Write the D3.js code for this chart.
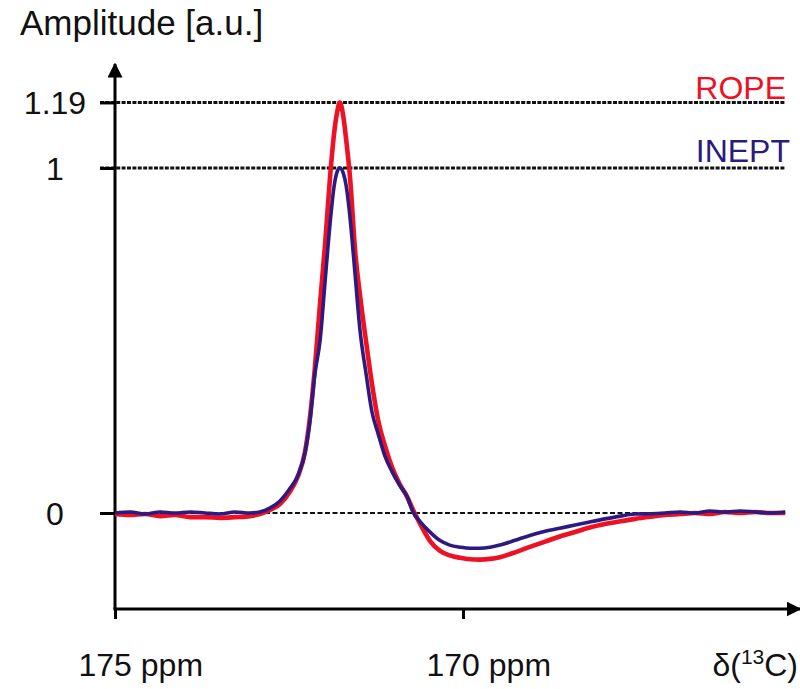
<!DOCTYPE html>
<html>
<head>
<meta charset="utf-8">
<script src="https://cdn.jsdelivr.net/npm/d3@7"></script>
<style>
  html, body { margin: 0; padding: 0; background: #fff; }
  svg { display: block; font-family: "Liberation Sans", Arial, Helvetica, sans-serif; }
</style>
</head>
<body>
<svg id="chart" width="800" height="689"></svg>
<script>
// chemical shift grid (ppm)
const ppm = [
  175.00, 174.78, 174.57, 174.35, 174.14, 173.92, 173.71, 173.49, 173.28, 173.06,
  172.92, 172.77, 172.63, 172.49, 172.37, 172.27, 172.20, 172.13, 172.05, 171.98,
  171.91, 171.85, 171.81, 171.77, 171.72, 171.68, 171.62, 171.55, 171.48, 171.39,
  171.31, 171.22, 171.12, 171.02, 170.91, 170.80, 170.72, 170.62, 170.47, 170.33,
  170.19, 170.04, 169.90, 169.76, 169.61, 169.47, 169.25, 169.04, 168.82, 168.61,
  168.39, 168.18, 167.96, 167.74, 167.53, 167.31, 167.10, 166.88, 166.67, 166.45,
  166.24, 166.02, 165.80, 165.59, 165.37
];

// ROPE amplitude (a.u.)
const rope = [
  -0.003, -0.006, -0.003, -0.009, -0.006, -0.012, -0.012, -0.014, -0.012, -0.009,
  -0.003, 0.009, 0.026, 0.061, 0.107, 0.177, 0.275, 0.417, 0.617, 0.783,
  0.974, 1.104, 1.160, 1.190, 1.150, 1.085, 0.965, 0.760, 0.632, 0.493,
  0.377, 0.270, 0.194, 0.133, 0.084, 0.046, 0.010, -0.030, -0.082, -0.110,
  -0.123, -0.130, -0.134, -0.135, -0.133, -0.128, -0.114, -0.098, -0.083, -0.068,
  -0.055, -0.042, -0.032, -0.024, -0.017, -0.011, -0.006, -0.003, 0.000, -0.003,
  0.003, 0.000, 0.003, 0.000, 0.000
];

// INEPT amplitude (a.u.)
const inept = [
  0.000, 0.003, -0.003, 0.003, 0.000, 0.003, 0.000, -0.003, 0.003, 0.000,
  0.003, 0.015, 0.035, 0.070, 0.110, 0.175, 0.265, 0.400, 0.506, 0.675,
  0.839, 0.950, 0.988, 1.000, 0.985, 0.950, 0.850, 0.690, 0.530, 0.400,
  0.295, 0.230, 0.164, 0.120, 0.080, 0.046, 0.003, -0.024, -0.056, -0.080,
  -0.093, -0.099, -0.102, -0.102, -0.099, -0.093, -0.079, -0.065, -0.053, -0.044,
  -0.035, -0.026, -0.017, -0.009, -0.003, -0.002, 0.000, 0.003, 0.000, 0.006,
  0.003, 0.006, 0.003, 0.000, 0.003
];

const seriesNames = ['ROPE', 'INEPT'];
const yTicks = [0, 1, 1.19];
const xTicks = [175, 170];

const colors = { ROPE: '#ee1124', INEPT: '#2c1a80' };

const svg = d3.select('#chart');

// Scales
const x = d3.scaleLinear().domain([175, 170]).range([115, 463]);
const y = d3.scaleLinear().domain([0, 1]).range([513, 168]);

const axisLeftX = x(175);
const axisBottomY = 609;

// Reference (dashed) lines
svg.append('g')
  .selectAll('line')
  .data(yTicks)
  .enter()
  .append('line')
  .attr('x1', axisLeftX - 15)
  .attr('x2', 785)
  .attr('y1', d => y(d))
  .attr('y2', d => y(d))
  .attr('stroke', '#111')
  .attr('stroke-width', d => d === 0 ? 2 : 3)
  .attr('stroke-dasharray', d => d === 0 ? '5,2.5' : '4,1.4');

// Arrow marker
svg.append('defs').append('marker')
  .attr('id', 'arrow')
  .attr('viewBox', '0 0 10 10')
  .attr('refX', 9)
  .attr('refY', 5)
  .attr('markerWidth', 5)
  .attr('markerHeight', 5)
  .attr('markerUnits', 'strokeWidth')
  .attr('orient', 'auto')
  .append('path')
  .attr('d', 'M0,0 L10,5 L0,10 z')
  .attr('fill', '#000');

// Y axis
const yAxis = d3.axisLeft(y)
  .tickValues(yTicks)
  .tickSize(15)
  .tickFormat(d => d3.format('')(d));

const yAxisGroup = svg.append('g')
  .attr('transform', `translate(${axisLeftX},0)`)
  .call(yAxis);
yAxisGroup.select('.domain').remove();
yAxisGroup.selectAll('line').attr('stroke', '#000').attr('stroke-width', 3);
yAxisGroup.selectAll('text')
  .attr('x', -60)
  .attr('text-anchor', 'middle')
  .attr('dy', '0.35em')
  .style('font-size', '32px')
  .style('fill', '#111');

// X axis
const xAxis = d3.axisBottom(x)
  .tickValues(xTicks)
  .tickSize(10)
  .tickFormat(d => `${d} ppm`);

const xAxisGroup = svg.append('g')
  .attr('transform', `translate(0,${axisBottomY})`)
  .call(xAxis);
xAxisGroup.select('.domain').remove();
xAxisGroup.selectAll('line').attr('stroke', '#000').attr('stroke-width', 3);
xAxisGroup.selectAll('text')
  .attr('x', -37)
  .attr('y', 67)
  .attr('dy', 0)
  .attr('text-anchor', 'start')
  .style('font-size', '32px')
  .style('fill', '#111');

// Axis lines with arrows
svg.append('line')
  .attr('x1', axisLeftX).attr('x2', axisLeftX)
  .attr('y1', axisBottomY).attr('y2', 64)
  .attr('stroke', '#000').attr('stroke-width', 3)
  .attr('marker-end', 'url(#arrow)');

svg.append('line')
  .attr('x1', axisLeftX - 1.5).attr('x2', 800)
  .attr('y1', axisBottomY).attr('y2', axisBottomY)
  .attr('stroke', '#000').attr('stroke-width', 3)
  .attr('marker-end', 'url(#arrow)');

// Spectra
const line = d3.line()
  .x((d, i) => x(ppm[i]))
  .y(d => y(d))
  .curve(d3.curveMonotoneX);

svg.append('path')
  .datum(rope)
  .attr('fill', 'none')
  .attr('stroke', colors.ROPE)
  .attr('stroke-width', 4.6)
  .attr('stroke-linejoin', 'round')
  .attr('d', line);

svg.append('path')
  .datum(inept)
  .attr('fill', 'none')
  .attr('stroke', colors.INEPT)
  .attr('stroke-width', 3.6)
  .attr('stroke-linejoin', 'round')
  .attr('d', line);

// Series labels
svg.append('g')
  .selectAll('text')
  .data(seriesNames)
  .enter()
  .append('text')
  .attr('x', (d, i) => i === 0 ? 786 : 790)
  .attr('y', (d, i) => i === 0 ? 99 : 162)
  .attr('text-anchor', 'end')
  .style('font-size', '32px')
  .style('fill', d => colors[d])
  .text(d => d);

// Axis titles
svg.append('text')
  .attr('x', 20)
  .attr('y', 35)
  .style('font-size', '35px')
  .style('fill', '#111')
  .text('Amplitude [a.u.]');

const xTitle = svg.append('text')
  .attr('x', 798)
  .attr('y', 676)
  .attr('text-anchor', 'end')
  .style('font-size', '32px')
  .style('fill', '#111');
xTitle.append('tspan').text('δ(');
xTitle.append('tspan').attr('dy', -12).style('font-size', '21px').text('13');
xTitle.append('tspan').attr('dy', 12).text('C)');
</script>
</body>
</html>
